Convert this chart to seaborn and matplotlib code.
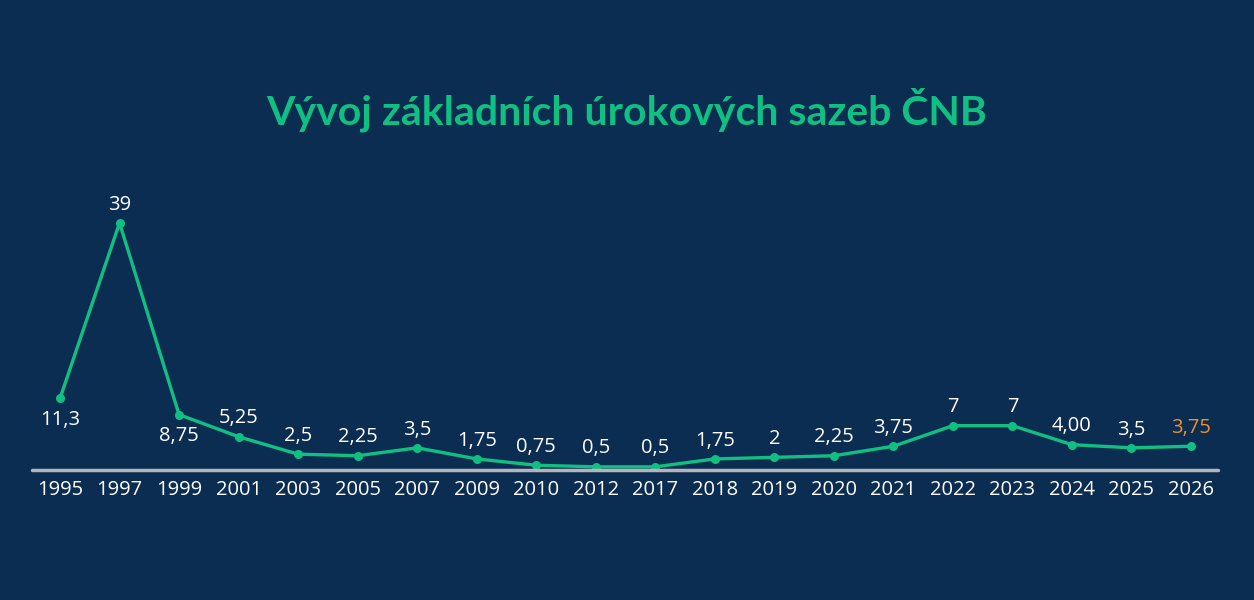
import matplotlib
matplotlib.use("Agg")
import matplotlib.pyplot as plt
import seaborn as sns
import pandas as pd

years = ["1995", "1997", "1999", "2001", "2003", "2005", "2007", "2009", "2010", "2012",
         "2017", "2018", "2019", "2020", "2021", "2022", "2023", "2024", "2025", "2026"]
rates = [11.3, 39, 8.75, 5.25, 2.5, 2.25, 3.5, 1.75, 0.75, 0.5,
         0.5, 1.75, 2, 2.25, 3.75, 7, 7, 4.0, 3.5, 3.75]
labels = ["11,3", "39", "8,75", "5,25", "2,5", "2,25", "3,5", "1,75", "0,75", "0,5",
          "0,5", "1,75", "2", "2,25", "3,75", "7", "7", "4,00", "3,5", "3,75"]
below = {"1995", "1999"}
highlight = {"2026"}

BG = "#0b2d51"
GREEN = "#10bf82"
ORANGE = "#f0902a"
AXIS = "#b2b5ba"

sns.set_theme(style="white")
plt.rcParams["font.family"] = ["Open Sans", "DejaVu Sans"]

df = pd.DataFrame({"year": years, "rate": rates})

fig = plt.figure(figsize=(12.54, 6.0), dpi=100, facecolor=BG)
ax = fig.add_axes([0, 130 / 600, 1, 285 / 600])
ax.set_facecolor(BG)

sns.lineplot(data=df, x="year", y="rate", ax=ax, color=GREEN, linewidth=2.4,
             marker="o", markersize=6.5, markeredgewidth=0, sort=False)

n = len(years)
step = (1191 - 60) / (n - 1)
left = -60 / step
right = (1254 - 60) / step
ax.set_xlim(left, right)
ax.set_ylim(0, 45)

for i, (y, v, lab) in enumerate(zip(years, rates, labels)):
    col = ORANGE if y in highlight else "white"
    if y in below:
        ax.annotate(lab, (i, v), xytext=(0, -8), textcoords="offset points",
                    ha="center", va="top", color=col, fontsize=14.5)
    else:
        ax.annotate(lab, (i, v), xytext=(0, 6), textcoords="offset points",
                    ha="center", va="bottom", color=col, fontsize=14.5)

for s in ["top", "right", "left", "bottom"]:
    ax.spines[s].set_visible(False)
ax.axhline(0, xmin=32 / 1254, xmax=1218 / 1254, color=AXIS, linewidth=2.5, clip_on=False)

ax.set_yticks([])
ax.set_xlabel("")
ax.set_ylabel("")
ax.tick_params(axis="x", length=0, pad=7, labelsize=14.5, labelcolor="white")

fig.text(0.5, 1 - 110 / 600, "Vývoj základních úrokových sazeb ČNB", ha="center", va="center",
         color=GREEN, fontsize=29.5, fontweight="bold", family=["Lato", "DejaVu Sans"])

fig.savefig("out.png", dpi=100, facecolor=BG)
